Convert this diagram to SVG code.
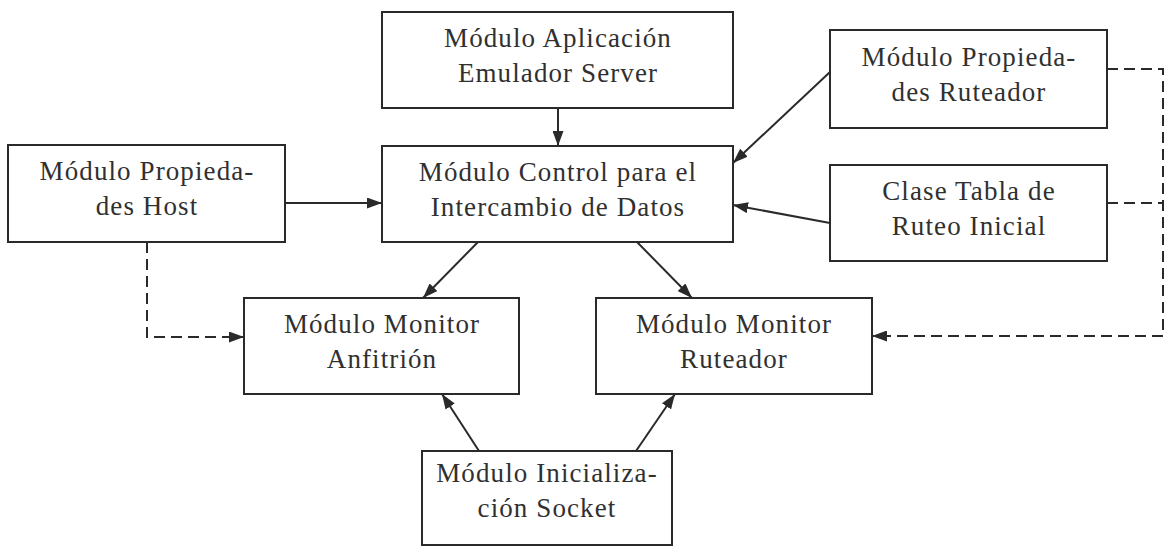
<svg xmlns="http://www.w3.org/2000/svg" width="1164" height="547" viewBox="0 0 1164 547">
  <defs>
    <style>
      .box { fill: #ffffff; stroke: #2a2a2a; stroke-width: 2; }
      .lbl { font-family: "Liberation Serif", "Times New Roman", serif; font-size: 27px; letter-spacing: 1.1px; fill: #303030; text-anchor: middle; }
      .edge { fill: none; stroke: #2a2a2a; stroke-width: 2; }
      .dash { fill: none; stroke: #2a2a2a; stroke-width: 2; stroke-dasharray: 11 6; }
    </style>
    <marker id="arr" markerUnits="userSpaceOnUse" markerWidth="16" markerHeight="11" refX="15" refY="5.5" orient="auto">
      <path d="M0,0 L15,5.5 L0,11 z" fill="#2a2a2a"/>
    </marker>
  </defs>
  <rect width="1164" height="547" fill="#ffffff"/>

  <g id="connectors">
    <line class="edge" x1="558" y1="108" x2="558" y2="146" marker-end="url(#arr)"/>
    <line class="edge" x1="285" y1="203" x2="382" y2="203" marker-end="url(#arr)"/>
    <line class="edge" x1="830" y1="72" x2="733" y2="163" marker-end="url(#arr)"/>
    <line class="edge" x1="830" y1="223" x2="733" y2="205" marker-end="url(#arr)"/>
    <line class="edge" x1="478" y1="242" x2="423" y2="298" marker-end="url(#arr)"/>
    <line class="edge" x1="637" y1="242" x2="692" y2="298" marker-end="url(#arr)"/>
    <line class="edge" x1="479" y1="451" x2="442" y2="394" marker-end="url(#arr)"/>
    <line class="edge" x1="636" y1="451" x2="675" y2="394" marker-end="url(#arr)"/>
    <path class="dash" d="M147,242 L147,337 L244,337" marker-end="url(#arr)"/>
    <path class="dash" d="M1107,69 L1163,69 L1163,336 L872,336" marker-end="url(#arr)"/>
    <path class="dash" d="M1107,203 L1163,203"/>
  </g>

  <g id="node-aplicacion">
    <rect class="box" x="382" y="12" width="351" height="96"/>
    <text class="lbl" x="558" y="47">Módulo Aplicación</text>
    <text class="lbl" x="558" y="82">Emulador Server</text>
  </g>
  <g id="node-control">
    <rect class="box" x="382" y="146" width="351" height="96"/>
    <text class="lbl" x="558" y="181">Módulo Control para el</text>
    <text class="lbl" x="558" y="216">Intercambio de Datos</text>
  </g>
  <g id="node-prop-host">
    <rect class="box" x="8" y="145" width="277" height="97"/>
    <text class="lbl" x="147" y="180">Módulo Propieda-</text>
    <text class="lbl" x="147" y="215">des Host</text>
  </g>
  <g id="node-prop-ruteador">
    <rect class="box" x="830" y="30" width="277" height="98"/>
    <text class="lbl" x="969" y="66">Módulo Propieda-</text>
    <text class="lbl" x="969" y="101">des Ruteador</text>
  </g>
  <g id="node-tabla">
    <rect class="box" x="830" y="165" width="277" height="96"/>
    <text class="lbl" x="969" y="200">Clase Tabla de</text>
    <text class="lbl" x="969" y="235">Ruteo Inicial</text>
  </g>
  <g id="node-monitor-anfitrion">
    <rect class="box" x="244" y="298" width="275" height="96"/>
    <text class="lbl" x="382" y="333">Módulo Monitor</text>
    <text class="lbl" x="382" y="368">Anfitrión</text>
  </g>
  <g id="node-monitor-ruteador">
    <rect class="box" x="596" y="298" width="276" height="96"/>
    <text class="lbl" x="734" y="333">Módulo Monitor</text>
    <text class="lbl" x="734" y="368">Ruteador</text>
  </g>
  <g id="node-socket">
    <rect class="box" x="422" y="451" width="250" height="94"/>
    <text class="lbl" x="547" y="482">Módulo Inicializa-</text>
    <text class="lbl" x="547" y="517">ción Socket</text>
  </g>
</svg>
